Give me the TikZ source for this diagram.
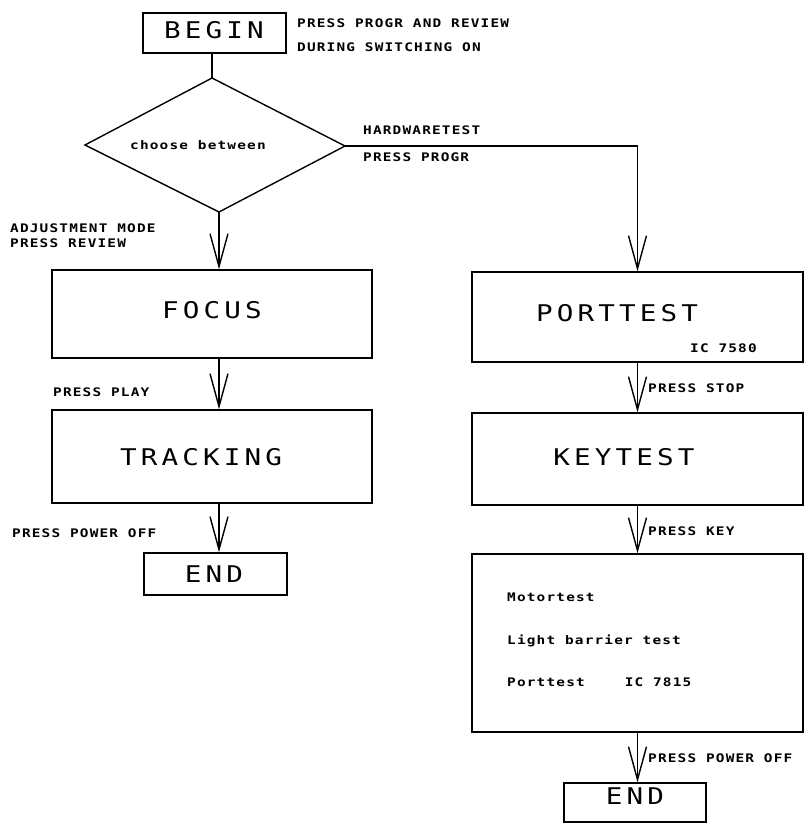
\documentclass[tikz,border=0pt]{standalone}
\usepackage{fontspec}
\usetikzlibrary{arrows.meta}
\newfontfamily\smallplot[FakeStretch=1.22,LetterSpace=10]{DejaVu Sans Mono}
\newfontfamily\bigplot[FakeStretch=1.2,LetterSpace=18]{DejaVu Sans Mono}
\tikzset{
  boxnode/.style={draw, line width=1.4pt, inner sep=0pt},
  arr/.style={line width=1.4pt, -{Straight Barb[length=33pt,width=18pt,line width=1.4pt]}},
  conn/.style={line width=1.4pt},
  lbl/.style={font={\smallplot\bfseries\fontsize{11.8}{13}\selectfont}, anchor=base west, inner sep=0pt},
  bigtxt/.style={font={\bigplot\fontsize{23}{27}\selectfont}, inner sep=0pt, anchor=center}
}
\begin{document}
\begin{tikzpicture}[x=1pt,y=-1pt]
\useasboundingbox (0,0) rectangle (805,825);
% boxes
\node[boxnode, minimum width=143pt, minimum height=40pt] (begin) at (214.5,33) {};
\node[boxnode, minimum width=320pt, minimum height=88pt] (focus) at (212,314) {};
\node[boxnode, minimum width=320pt, minimum height=93pt] (tracking) at (212,456.5) {};
\node[boxnode, minimum width=143pt, minimum height=42pt] (endL) at (215.5,574) {};
\node[boxnode, minimum width=331pt, minimum height=90pt] (porttest) at (637.5,317) {};
\node[boxnode, minimum width=331pt, minimum height=92pt] (keytest) at (637.5,459) {};
\node[boxnode, minimum width=331pt, minimum height=178pt] (multi) at (637.5,643) {};
\node[boxnode, minimum width=142pt, minimum height=39pt] (endR) at (635,802.5) {};
% diamond
\coordinate (dt) at (212,78);
\coordinate (dr) at (345,146);
\coordinate (db) at (219,212);
\coordinate (dl) at (85,145);
\draw[conn] (dt) -- (dr) -- (db) -- (dl) -- cycle;
% big texts
\node[bigtxt] (tbegin) at (214,30) {BEGIN};
\node[bigtxt] (tfocus) at (212,310) {FOCUS};
\node[bigtxt] (ttracking) at (201,457) {TRACKING};
\node[bigtxt] (tendL) at (214,574) {END};
\node[bigtxt] (tport) at (617,313) {PORTTEST};
\node[bigtxt] (tkey) at (624,457) {KEYTEST};
\node[bigtxt] (tendR) at (635,796) {END};
% small texts
\node[lbl] (l1) at (297,27) {PRESS PROGR AND REVIEW};
\node[lbl] (l2) at (297,51) {DURING SWITCHING ON};
\node[lbl] (l3) at (130,149) {choose between};
\node[lbl] (l4) at (363,134) {HARDWARETEST};
\node[lbl] (l5) at (363,161) {PRESS PROGR};
\node[lbl] (l6) at (10,232) {ADJUSTMENT MODE};
\node[lbl] (l7) at (10,247) {PRESS REVIEW};
\node[lbl] (l8) at (53,396) {PRESS PLAY};
\node[lbl] (l9) at (12,537) {PRESS POWER OFF};
\node[lbl] (l10) at (690,352) {IC 7580};
\node[lbl] (l11) at (648,392) {PRESS STOP};
\node[lbl] (l12) at (648,535) {PRESS KEY};
\node[lbl] (l13) at (507,601) {Motortest};
\node[lbl] (l14) at (507,644) {Light barrier test};
\node[lbl] (l15) at (507,686) {Porttest\hspace*{40pt}IC 7815};
\node[lbl] (l16) at (648,762) {PRESS POWER OFF};
% connectors
\draw[conn] (dt |- begin.south) -- (dt);
\draw[arr] (db) -- (db |- focus.north);
\draw[arr] (db |- focus.south) -- (db |- tracking.north);
\draw[arr] (db |- tracking.south) -- (db |- endL.north);
\draw[arr] (dr) -| (porttest.north);
\draw[arr] (porttest.south) -- (keytest.north);
\draw[arr] (keytest.south) -- (multi.north);
\draw[arr] (multi.south) -- (multi.south |- endR.north);
\end{tikzpicture}
\end{document}
